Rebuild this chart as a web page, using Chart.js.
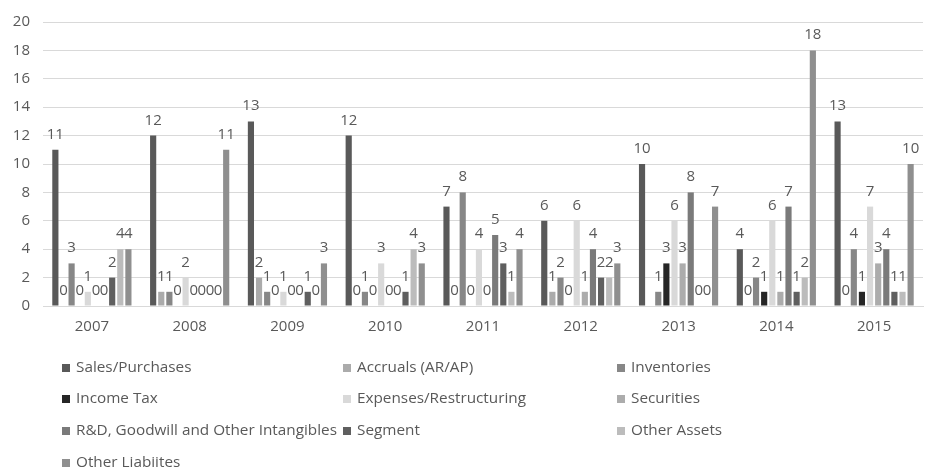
<!DOCTYPE html>
<html>
<head>
<meta charset="utf-8">
<script src="https://cdn.jsdelivr.net/npm/chart.js@4.4.1/dist/chart.umd.min.js"></script>
<style>
  html, body { margin: 0; padding: 0; background: #ffffff; }
  #wrap { position: relative; width: 929px; height: 475px; }
</style>
</head>
<body>
<div id="wrap"><canvas id="chart"></canvas></div>
<script>
// Categories (years) and counts per topic
const categories = ['2007', '2008', '2009', '2010', '2011', '2012', '2013', '2014', '2015'];
const salesPurchases   = [11, 12, 13, 12, 7, 6, 10, 4, 13];
const accruals         = [0, 1, 2, 0, 0, 1, null, 0, 0];
const inventories      = [3, 1, 1, 1, 8, 2, 1, 2, 4];
const incomeTax        = [0, 0, 0, 0, 0, 0, 3, 1, 1];
const expensesRestruct = [1, 2, 1, 3, 4, 6, 6, 6, 7];
const securities       = [0, 0, 0, 0, 0, 1, 3, 1, 3];
const rdGoodwill       = [0, 0, 0, 0, 5, 4, 8, 7, 4];
const segment          = [2, 0, 1, 1, 3, 2, 0, 1, 1];
const otherAssets      = [4, 0, 0, 4, 1, 2, 0, 2, 1];
const otherLiabilities = [4, 11, 3, 3, 4, 3, 7, 18, 10];
const yTicks = [0, 2, 4, 6, 8, 10, 12, 14, 16, 18, 20];

const seriesNames = ['Sales/Purchases', 'Accruals (AR/AP)', 'Inventories', 'Income Tax',
  'Expenses/Restructuring', 'Securities', 'R&D, Goodwill and Other Intangibles', 'Segment',
  'Other Assets', 'Other Liabiites'];
const seriesValues = [salesPurchases, accruals, inventories, incomeTax, expensesRestruct,
  securities, rdGoodwill, segment, otherAssets, otherLiabilities];
const seriesColors = ['#595959', '#ababab', '#878787', '#262626', '#d9d9d9',
  '#acacac', '#7a7a7a', '#5f5f5f', '#bcbcbc', '#8f8f8f'];

const FONT = '"Open Sans", "Liberation Sans", Arial, sans-serif';
const TEXT = '#595959';

// Value labels above each bar (zeros included, empty cells skipped)
const valueLabels = {
  id: 'valueLabels',
  afterDatasetsDraw(chart) {
    const ctx = chart.ctx;
    ctx.save();
    ctx.font = '15px ' + FONT;
    ctx.fillStyle = TEXT;
    ctx.textAlign = 'center';
    ctx.textBaseline = 'alphabetic';
    chart.data.datasets.forEach((ds, di) => {
      const meta = chart.getDatasetMeta(di);
      meta.data.forEach((bar, i) => {
        const v = ds.data[i];
        if (v === null || v === undefined) return;
        ctx.fillText(String(v), bar.x, bar.y - 11);
      });
    });
    ctx.restore();
  }
};

// Three-column legend below the axis
const gridLegend = {
  id: 'gridLegend',
  afterDraw(chart) {
    const ctx = chart.ctx;
    const cols = [62, 343, 617];
    const rows = [368, 399, 431, 463];
    ctx.save();
    ctx.font = '15.3px ' + FONT;
    ctx.textAlign = 'left';
    ctx.textBaseline = 'middle';
    chart.data.datasets.forEach((ds, i) => {
      const x = cols[i % 3];
      const y = rows[Math.floor(i / 3)];
      ctx.fillStyle = ds.backgroundColor;
      ctx.fillRect(x, y - 4, 8, 8);
      ctx.fillStyle = TEXT;
      ctx.fillText(ds.label, x + 14, y);
    });
    ctx.restore();
  }
};

new Chart(document.getElementById('chart'), {
  type: 'bar',
  data: {
    labels: categories,
    datasets: seriesNames.map((name, i) => ({
      label: name,
      data: seriesValues[i],
      backgroundColor: seriesColors[i],
      borderWidth: 0,
      categoryPercentage: 0.83,
      barPercentage: 0.76
    }))
  },
  options: {
    responsive: true,
    maintainAspectRatio: false,
    animation: false,
    layout: { padding: { top: 21, right: 6, bottom: 0, left: 0 } },
    plugins: {
      legend: { display: false },
      tooltip: { enabled: false }
    },
    scales: {
      x: {
        grid: { display: false, drawTicks: false },
        border: { display: true, color: '#d9d9d9', width: 1 },
        ticks: { color: TEXT, font: { family: FONT, size: 15 }, padding: 12 },
        afterFit(scale) { scale.height = 169; }
      },
      y: {
        min: 0,
        max: 20,
        afterBuildTicks(scale) { scale.ticks = yTicks.map(v => ({ value: v })); },
        grid: { color: '#d9d9d9', lineWidth: 1, drawTicks: false },
        border: { display: false },
        ticks: { color: TEXT, font: { family: FONT, size: 15 }, padding: 13 },
        afterFit(scale) { scale.width = 43; }
      }
    }
  },
  plugins: [valueLabels, gridLegend]
});
</script>
</body>
</html>
